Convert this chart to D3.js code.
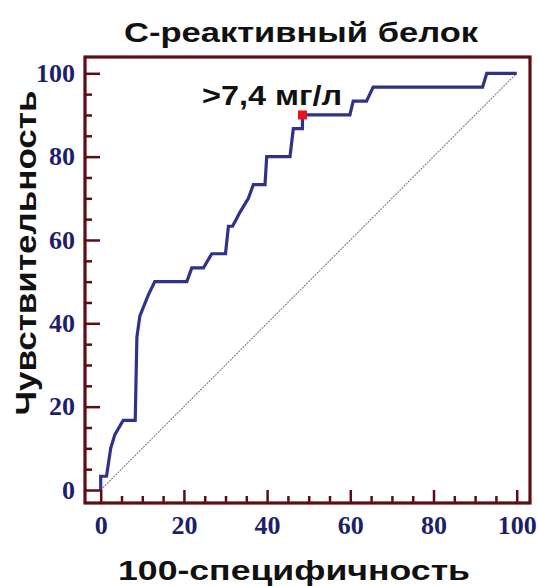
<!DOCTYPE html>
<html>
<head>
<meta charset="utf-8">
<script src="https://cdn.jsdelivr.net/npm/d3@7"></script>
<style>
  html, body { margin: 0; padding: 0; background: #fff; }
  svg { display: block; }
</style>
</head>
<body>
<svg id="chart" width="539" height="586"></svg>
<script>
// ROC curve: 100-specificity (FPR, %) vs sensitivity (TPR, %)
const fpr = [0, 0, 1.4, 2.4, 3.4, 5.4, 8.3, 8.7, 9.4, 11.4, 13.0, 20.7, 21.9, 24.7, 26.7, 30.0, 30.7, 31.7, 33.5, 35.5, 36.7, 39.5, 39.9, 45.5, 46.3, 48.5, 48.5, 59.9, 60.7, 63.9, 65.5, 91.8, 92.8, 100];
const tpr = [0, 3.3, 3.3, 10.0, 13.3, 16.7, 16.7, 36.7, 41.7, 46.7, 50.0, 50.0, 53.3, 53.3, 56.7, 56.7, 63.3, 63.3, 66.7, 70.0, 73.3, 73.3, 80.0, 80.0, 86.7, 86.7, 90.0, 90.0, 93.3, 93.3, 96.7, 96.7, 100, 100];

// optimal cut-off point
const cutFpr = [48.5];
const cutTpr = [90.0];
const cutLabel = [">7,4 мг/л"];

const majorTicks = [0, 20, 40, 60, 80, 100];
const minorTicks = d3.range(0, 101, 5).filter(v => v % 20 !== 0);

const titleText = "С-реактивный белок";
const xTitle = "100-специфичность";
const yTitle = "Чувствительность";

const frameColor = "#5e0d12";
const tickLabelColor = "#1d1f6b";
const curveColor = "#2f3288";
const sans = "'Liberation Sans', Arial, sans-serif";

const svg = d3.select("#chart");

const x = d3.scaleLinear().domain([0, 100]).range([100.7, 516.7]);
const y = d3.scaleLinear().domain([0, 100]).range([490, 73.3]);

const frame = { left: 85, top: 57, right: 530, bottom: 503 };

// reference diagonal
svg.append("line")
  .attr("x1", x(0)).attr("y1", y(0))
  .attr("x2", x(100)).attr("y2", y(100))
  .attr("stroke", "#8a8a8a")
  .attr("stroke-width", 1.2)
  .attr("stroke-dasharray", "2,1");

// ROC curve
const line = d3.line().x((d, i) => x(fpr[i])).y((d, i) => y(tpr[i]));
svg.append("path")
  .attr("d", line(fpr))
  .attr("fill", "none")
  .attr("stroke", curveColor)
  .attr("stroke-width", 3.2)
  .attr("stroke-linejoin", "miter");

// frame
svg.append("rect")
  .attr("x", frame.left).attr("y", frame.top)
  .attr("width", frame.right - frame.left)
  .attr("height", frame.bottom - frame.top)
  .attr("fill", "none")
  .attr("stroke", frameColor)
  .attr("stroke-width", 3.2);

// axes: ticks point inward from the frame
function styleAxis(g) {
  g.select(".domain").remove();
  g.selectAll(".tick line").attr("stroke", frameColor).attr("stroke-width", 2.5);
  g.selectAll("text")
    .attr("fill", tickLabelColor)
    .attr("font-family", "'Liberation Serif', 'Times New Roman', serif")
    .attr("font-weight", "bold")
    .attr("font-size", 26);
}

svg.append("g")
  .attr("transform", `translate(0,${frame.bottom})`)
  .call(d3.axisBottom(x).tickValues(minorTicks).tickSize(-7).tickFormat(""))
  .call(styleAxis);
svg.append("g")
  .attr("transform", `translate(0,${frame.bottom})`)
  .call(d3.axisBottom(x).tickValues(majorTicks).tickSize(-13).tickPadding(13).tickFormat(d3.format("d")))
  .call(styleAxis);

svg.append("g")
  .attr("transform", `translate(${frame.left},0)`)
  .call(d3.axisLeft(y).tickValues(minorTicks).tickSize(-7).tickFormat(""))
  .call(styleAxis);
svg.append("g")
  .attr("transform", `translate(${frame.left},0)`)
  .call(d3.axisLeft(y).tickValues(majorTicks).tickSize(-15).tickPadding(10).tickFormat(d3.format("d")))
  .call(styleAxis);

// cut-off marker
svg.selectAll("rect.cut")
  .data(cutFpr)
  .enter().append("rect")
  .attr("class", "cut")
  .attr("x", d => x(d) - 4.5)
  .attr("y", (d, i) => y(cutTpr[i]) - 4.5)
  .attr("width", 9).attr("height", 9)
  .attr("fill", "#e8131f");

svg.selectAll("text.cutlabel")
  .data(cutLabel)
  .enter().append("text")
  .attr("class", "cutlabel")
  .attr("x", 202).attr("y", 105)
  .attr("font-family", sans)
  .attr("font-weight", "bold")
  .attr("font-size", 28)
  .attr("textLength", 140)
  .attr("lengthAdjust", "spacingAndGlyphs")
  .attr("fill", "#111")
  .text(d => d);

// titles (wide bold lettering)
svg.append("text")
  .attr("x", 301).attr("y", 42)
  .attr("text-anchor", "middle")
  .attr("font-family", sans).attr("font-weight", "bold").attr("font-size", 28)
  .attr("textLength", 354)
  .attr("lengthAdjust", "spacingAndGlyphs")
  .attr("fill", "#111")
  .text(titleText);

svg.append("text")
  .attr("x", 294).attr("y", 580)
  .attr("text-anchor", "middle")
  .attr("font-family", sans).attr("font-weight", "bold").attr("font-size", 28)
  .attr("textLength", 352)
  .attr("lengthAdjust", "spacingAndGlyphs")
  .attr("fill", "#111")
  .text(xTitle);

svg.append("text")
  .attr("transform", "translate(36,253) rotate(-90)")
  .attr("text-anchor", "middle")
  .attr("font-family", sans).attr("font-weight", "bold").attr("font-size", 29)
  .attr("textLength", 325)
  .attr("lengthAdjust", "spacingAndGlyphs")
  .attr("fill", "#111")
  .text(yTitle);
</script>
</body>
</html>
